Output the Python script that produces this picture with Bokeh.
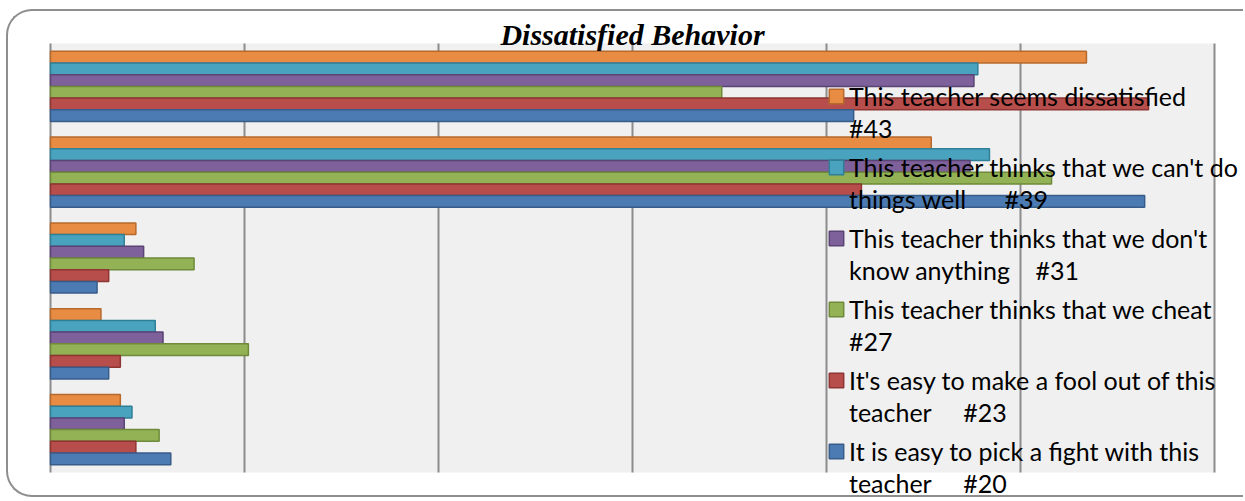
from bokeh.plotting import figure
from bokeh.models import (Range1d, Legend, LegendItem, ColumnDataSource,
                          BoxAnnotation, Label)
from bokeh.transform import dodge
from bokeh.embed import file_html
from bokeh.resources import INLINE

# categories, listed top to bottom as in the chart
categories = ["Group 1", "Group 2", "Group 3", "Group 4", "Group 5"]

# legend order (top to bottom); each label is wrapped over two lines
label_line1 = [
    "This teacher seems dissatisfied",
    "This teacher thinks that we can't do",
    "This teacher thinks that we don't",
    "This teacher thinks that we cheat",
    "It's easy to make a fool out of this",
    "It is easy to pick a fight with this",
]
label_line2 = [
    "#43",
    "things well      #39",
    "know anything    #31",
    "#27",
    "teacher     #23",
    "teacher     #20",
]

q43 = [267, 227, 22, 13, 18]
q39 = [239, 242, 19, 27, 21]
q31 = [238, 237, 24, 29, 19]
q27 = [173, 258, 37, 51, 28]
q23 = [283, 209, 15, 18, 22]
q20 = [207, 282, 12, 15, 31]

x_ticks = [0, 50, 100, 150, 200, 250, 300]

series_values = [q43, q39, q31, q27, q23, q20]
fill_colors = ["#E88B43", "#4AA3BE", "#7E619B", "#93B155", "#B84E4B", "#4B7BB2"]
line_colors = ["#B5692D", "#2F7F97", "#5A4475", "#6E8A3A", "#8C3533", "#385C89"]

n = len(categories)
cat_pos = [n - 0.5 - i for i in range(n)]   # top category drawn highest
px_per_unit_x = 1164 / x_ticks[-1]
px_per_cat = 429 / n

W, H, LEFT = 1237, 488, 40
frame_w = W - LEFT

p = figure(width=W, height=H, output_backend="svg", toolbar_location=None,
           x_range=Range1d(-2 / px_per_unit_x, (frame_w - 2) / px_per_unit_x),
           y_range=Range1d(-27 / px_per_cat, n + 32 / px_per_cat),
           min_border=0, min_border_left=LEFT)

p.background_fill_alpha = 0
p.border_fill_alpha = 0
p.outline_line_color = None
p.styles = {"border-top": "2px solid #8E8E8E",
            "border-left": "2px solid #8E8E8E",
            "border-bottom": "2px solid #8E8E8E",
            "border-radius": "26px 0px 0px 26px",
            "margin-left": "6px", "margin-top": "9px"}

p.xaxis.visible = False
p.yaxis.visible = False
p.xgrid.visible = False
p.ygrid.visible = False

# plot area background and vertical gridlines, limited to the category block
p.add_layout(BoxAnnotation(left=0, right=x_ticks[-1], bottom=0, top=n,
                           fill_color="#F0F0F0", fill_alpha=1,
                           line_color=None, level="image"))
grid_src = ColumnDataSource(dict(x=x_ticks, y0=[0] * len(x_ticks),
                                 y1=[n] * len(x_ticks)))
p.segment(x0="x", x1="x", y0="y0", y1="y1", source=grid_src,
          line_color="#8C8C8C", line_width=2, level="underlay")

h = 0.1364
offsets = [2.5 * h, 1.5 * h, 0.5 * h, -0.5 * h, -1.5 * h, -2.5 * h]

items1, items2 = [], []
for l1, l2, vals, fc, lc, off in zip(label_line1, label_line2, series_values,
                                     fill_colors, line_colors, offsets):
    src = ColumnDataSource(dict(cat=categories, pos=cat_pos, val=vals))
    r = p.hbar(y=dodge("pos", off), left=0, right="val",
               height=h, source=src, fill_color=fc, line_color=lc,
               line_width=1.5)
    ghost = p.hbar(y=dodge("pos", off), left=0, right="val",
                   height=h, source=src, fill_alpha=0, line_alpha=0)
    items1.append(LegendItem(label=l1, renderers=[r]))
    items2.append(LegendItem(label=l2, renderers=[ghost]))

common = dict(label_text_font="Lato", label_text_font_size="25px",
              label_text_color="black", glyph_width=18, glyph_height=18,
              label_standoff=4, label_height=32, spacing=39, padding=0,
              margin=0, border_line_alpha=0, background_fill_alpha=0)
legend1 = Legend(items=items1, location=(779, 32), **common)
legend2 = Legend(items=items2, location=(779, 0), **common)
p.add_layout(legend1)
p.add_layout(legend2)

title = Label(x=x_ticks[-1] / 2, y=n, y_offset=9, text="Dissatisfied Behavior",
              text_align="center", text_baseline="alphabetic",
              text_font="Liberation Serif", text_font_style="bold italic",
              text_font_size="30px", text_color="black")
p.add_layout(title)

open("out.html", "w").write(file_html(p, INLINE))
